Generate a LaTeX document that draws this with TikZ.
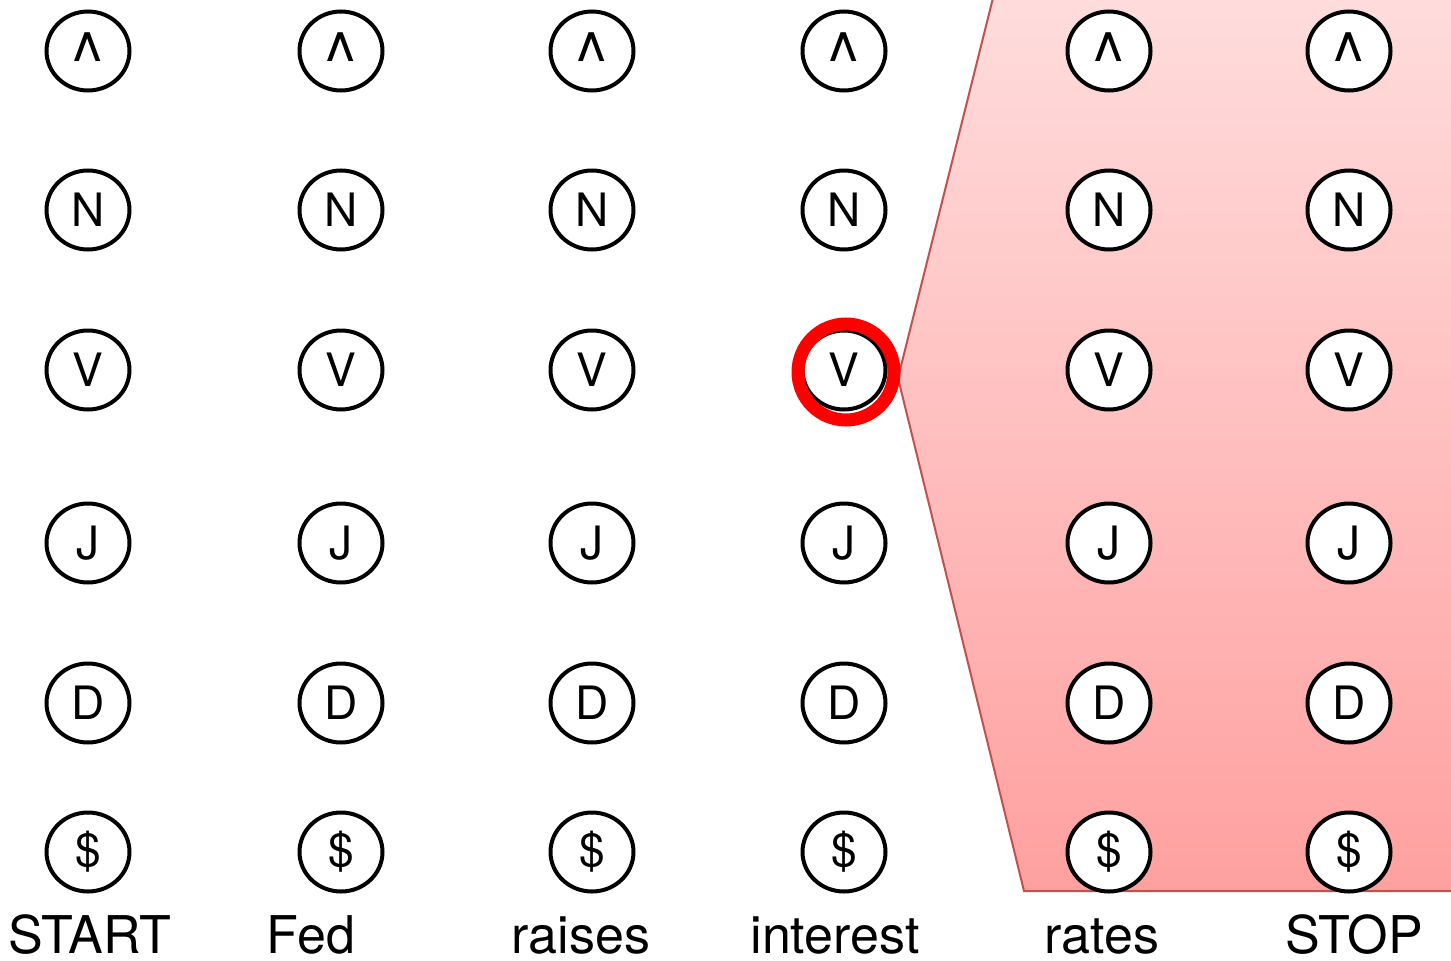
\documentclass[tikz,border=0pt]{standalone}
\usepackage{fontspec}
\setmainfont{TeX Gyre Heros}
\usetikzlibrary{shapes.geometric,shadows}
\definecolor{bandtop}{RGB}{255,220,220}
\definecolor{bandbot}{RGB}{255,160,160}
\definecolor{bandline}{RGB}{196,80,77}
\definecolor{ringred}{RGB}{255,0,0}
\newcommand{\caretsym}{\smash{\raisebox{-35pt}{\scalebox{1.5}[1.65]{\textasciicircum}}}}
\begin{document}
\begin{tikzpicture}[x=1pt,y=-1pt,
  state/.style={ellipse,draw=black,line width=4pt,fill=white,minimum width=83pt,minimum height=79pt,inner sep=0pt,font=\fontsize{46}{46}\selectfont},
  word/.style={font=\fontsize{52}{52}\selectfont,inner sep=0pt,anchor=base}]
\useasboundingbox (0,0) rectangle (1451,961);
% band
\path[top color=bandtop,bottom color=bandbot] (993,-2) -- (898,378) -- (1024,891) -- (1453,891) -- (1453,-2) -- cycle;
\draw[bandline,line width=2pt] (993,-2) -- (898,378) -- (1024,891) -- (1453,891);
% grid
\foreach \c/\x in {1/88,2/341,3/592,4/844,5/1109,6/1349}{
  \foreach \r/\y/\t in {1/51/\caretsym,2/210/N,3/370/V,4/543/J,5/703/D,6/852/\$}{
    \node[state] (n\c\r) at (\x,\y) {\t};
  }
}
% highlight ring
\node[circle,draw=ringred,line width=13pt,minimum size=96pt,inner sep=0pt] (ring) at (846,372) {};
% words
\node[word] (w1) at (90,953) {START};
\node[word] (w2) at (311,953) {Fed};
\node[word] (w3) at (581,953) {raises};
\node[word] (w4) at (835,953) {interest};
\node[word] (w5) at (1102,953) {rates};
\node[word] (w6) at (1354,953) {STOP};
\end{tikzpicture}
\end{document}
